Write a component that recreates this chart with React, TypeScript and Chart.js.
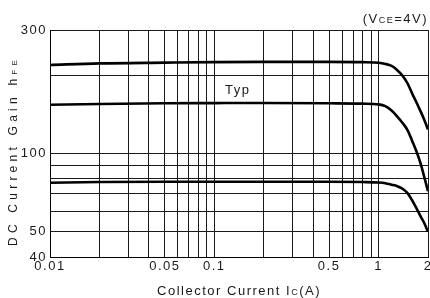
import { useEffect, useRef } from "react";
import { Chart, registerables } from "chart.js";

Chart.register(...registerables);

// Collector current (A)
const currents = [0.01, 0.02, 0.05, 0.1, 0.2, 0.5, 0.8, 1.0, 1.1, 1.2, 1.3, 1.4, 1.5, 1.6, 1.7, 1.8, 1.9, 2.0];
// DC current gain hFE curves
const hfeHigh = [220, 223, 224.5, 225.5, 226, 226, 225.5, 224.4, 222, 218, 210, 200, 187, 171, 158, 146, 135, 124];
const hfeTyp = [154.5, 155.5, 156.5, 156.8, 157, 156.5, 156, 155, 152.6, 146.7, 139.1, 131.5, 123.4, 112.3, 102.3, 92.0, 81.2, 71.7];
const hfeLow = [77.3, 77.8, 78, 78, 78, 78, 77.8, 77.5, 77.0, 76.0, 75.0, 73.3, 70.5, 66.2, 61.7, 57.5, 54.0, 50];

// Axis grid and label values
const xGridValues = [0.01, 0.02, 0.03, 0.04, 0.05, 0.06, 0.07, 0.08, 0.09, 0.1, 0.2, 0.3, 0.4, 0.5, 0.6, 0.7, 0.8, 0.9, 1, 2];
const xTickLabels = [0.01, 0.05, 0.1, 0.5, 1, 2];
const yGridValues = [40, 50, 60, 70, 80, 90, 100, 200, 300];
const yTickLabels = [40, 50, 100, 300];

const FONT = '"Liberation Sans", Arial, sans-serif';

type Part = { text: string; size: number };

function partsWidth(ctx: CanvasRenderingContext2D, parts: Part[], spacing: number) {
  let w = 0;
  ctx.letterSpacing = "0px";
  for (const p of parts) {
    ctx.font = `${p.size}px ${FONT}`;
    w += ctx.measureText(p.text).width + p.text.length * spacing;
  }
  return w;
}

function drawParts(ctx: CanvasRenderingContext2D, parts: Part[], x: number, y: number, spacing: number) {
  let cx = x;
  for (const p of parts) {
    ctx.letterSpacing = "0px";
    ctx.font = `${p.size}px ${FONT}`;
    const w = ctx.measureText(p.text).width + p.text.length * spacing;
    ctx.letterSpacing = `${spacing}px`;
    ctx.fillText(p.text, cx, y);
    cx += w;
  }
}

function fitSpacing(ctx: CanvasRenderingContext2D, parts: Part[], target: number) {
  const w0 = partsWidth(ctx, parts, 0);
  const n = parts.reduce((a, p) => a + p.text.length, 0);
  return Math.max(0, (target - w0) / n);
}

const textPlugin = {
  id: "customText",
  beforeDraw(chart: any) {
    chart.ctx.letterSpacing = "1.5px";
  },
  afterDraw(chart: any) {
    const ctx: CanvasRenderingContext2D = chart.ctx;
    const area = chart.chartArea;
    ctx.save();
    ctx.fillStyle = "#1a1a1a";
    ctx.textAlign = "left";
    ctx.textBaseline = "alphabetic";

    // X axis title
    const xParts: Part[] = [
      { text: "Collector Current I", size: 13 },
      { text: "C", size: 9 },
      { text: "(A)", size: 13 },
    ];
    const xs = fitSpacing(ctx, xParts, 164);
    const xw = partsWidth(ctx, xParts, xs);
    const xc = (area.left + area.right) / 2;
    drawParts(ctx, xParts, xc - xw / 2, 294.5, xs);

    // Y axis title (rotated)
    const yParts: Part[] = [
      { text: "DC Current Gain h", size: 12 },
      { text: "FE", size: 8 },
    ];
    const ys = fitSpacing(ctx, yParts, 190);
    const yw = partsWidth(ctx, yParts, ys);
    ctx.save();
    ctx.translate(17, 151);
    ctx.rotate(-Math.PI / 2);
    drawParts(ctx, yParts, -yw / 2, 0, ys);
    ctx.restore();

    // Condition label
    const cParts: Part[] = [
      { text: "(V", size: 13 },
      { text: "CE", size: 9 },
      { text: "=4V)", size: 13 },
    ];
    const cw = partsWidth(ctx, cParts, 1.5);
    drawParts(ctx, cParts, 428 - cw, 23, 1.5);

    // Typ label
    drawParts(ctx, [{ text: "Typ", size: 13 }], 225, 94, 1.5);

    ctx.restore();
  },
};

export default function App() {
  const ref = useRef<HTMLCanvasElement | null>(null);

  useEffect(() => {
    if (!ref.current) return;
    const mk = (vals: number[]) => currents.map((x, i) => ({ x, y: vals[i] }));
    const lineStyle = {
      borderColor: "#000",
      borderWidth: 2.6,
      pointRadius: 0,
      fill: false,
      cubicInterpolationMode: "monotone" as const,
    };
    const chart = new Chart(ref.current, {
      type: "line",
      data: {
        datasets: [
          { label: "high", data: mk(hfeHigh), ...lineStyle },
          { label: "typ", data: mk(hfeTyp), ...lineStyle },
          { label: "low", data: mk(hfeLow), ...lineStyle },
        ],
      },
      options: {
        animation: false,
        responsive: false,
        devicePixelRatio: 1,
        layout: { padding: { top: 30, right: 2, left: 0, bottom: 0 } },
        plugins: { legend: { display: false }, tooltip: { enabled: false }, title: { display: false } },
        scales: {
          x: {
            type: "logarithmic",
            min: 0.01,
            max: 2,
            afterBuildTicks: (s: any) => {
              s.ticks = xGridValues.map((v) => ({ value: v }));
            },
            afterFit: (s: any) => {
              s.height = 41;
              s.paddingLeft = 0;
              s.paddingRight = 0;
            },
            ticks: {
              autoSkip: false,
              maxRotation: 0,
              minRotation: 0,
              padding: 2,
              color: "#1a1a1a",
              font: { family: FONT, size: 13 },
              callback: (v: any) => (xTickLabels.includes(Number(v)) ? String(v) : ""),
            },
            grid: { color: "#1a1a1a", lineWidth: 1, drawTicks: false },
            border: { display: true, color: "#000", width: 1 },
          },
          y: {
            type: "logarithmic",
            min: 40,
            max: 300,
            afterBuildTicks: (s: any) => {
              s.ticks = yGridValues.map((v) => ({ value: v }));
            },
            afterFit: (s: any) => {
              s.width = 50;
              s.paddingTop = 0;
              s.paddingBottom = 0;
            },
            ticks: {
              autoSkip: false,
              padding: 3,
              color: "#1a1a1a",
              font: { family: FONT, size: 13 },
              callback: (v: any) => (yTickLabels.includes(Number(v)) ? String(v) : ""),
            },
            grid: { color: "#1a1a1a", lineWidth: 1, drawTicks: false },
            border: { display: true, color: "#000", width: 1 },
          },
        },
      },
      plugins: [textPlugin],
    });
    return () => chart.destroy();
  }, []);

  return (
    <div style={{ position: "fixed", left: 0, top: 0, width: 430, height: 298, background: "#fff" }}>
      <canvas ref={ref} width={430} height={298} style={{ width: 430, height: 298 }} />
    </div>
  );
}
